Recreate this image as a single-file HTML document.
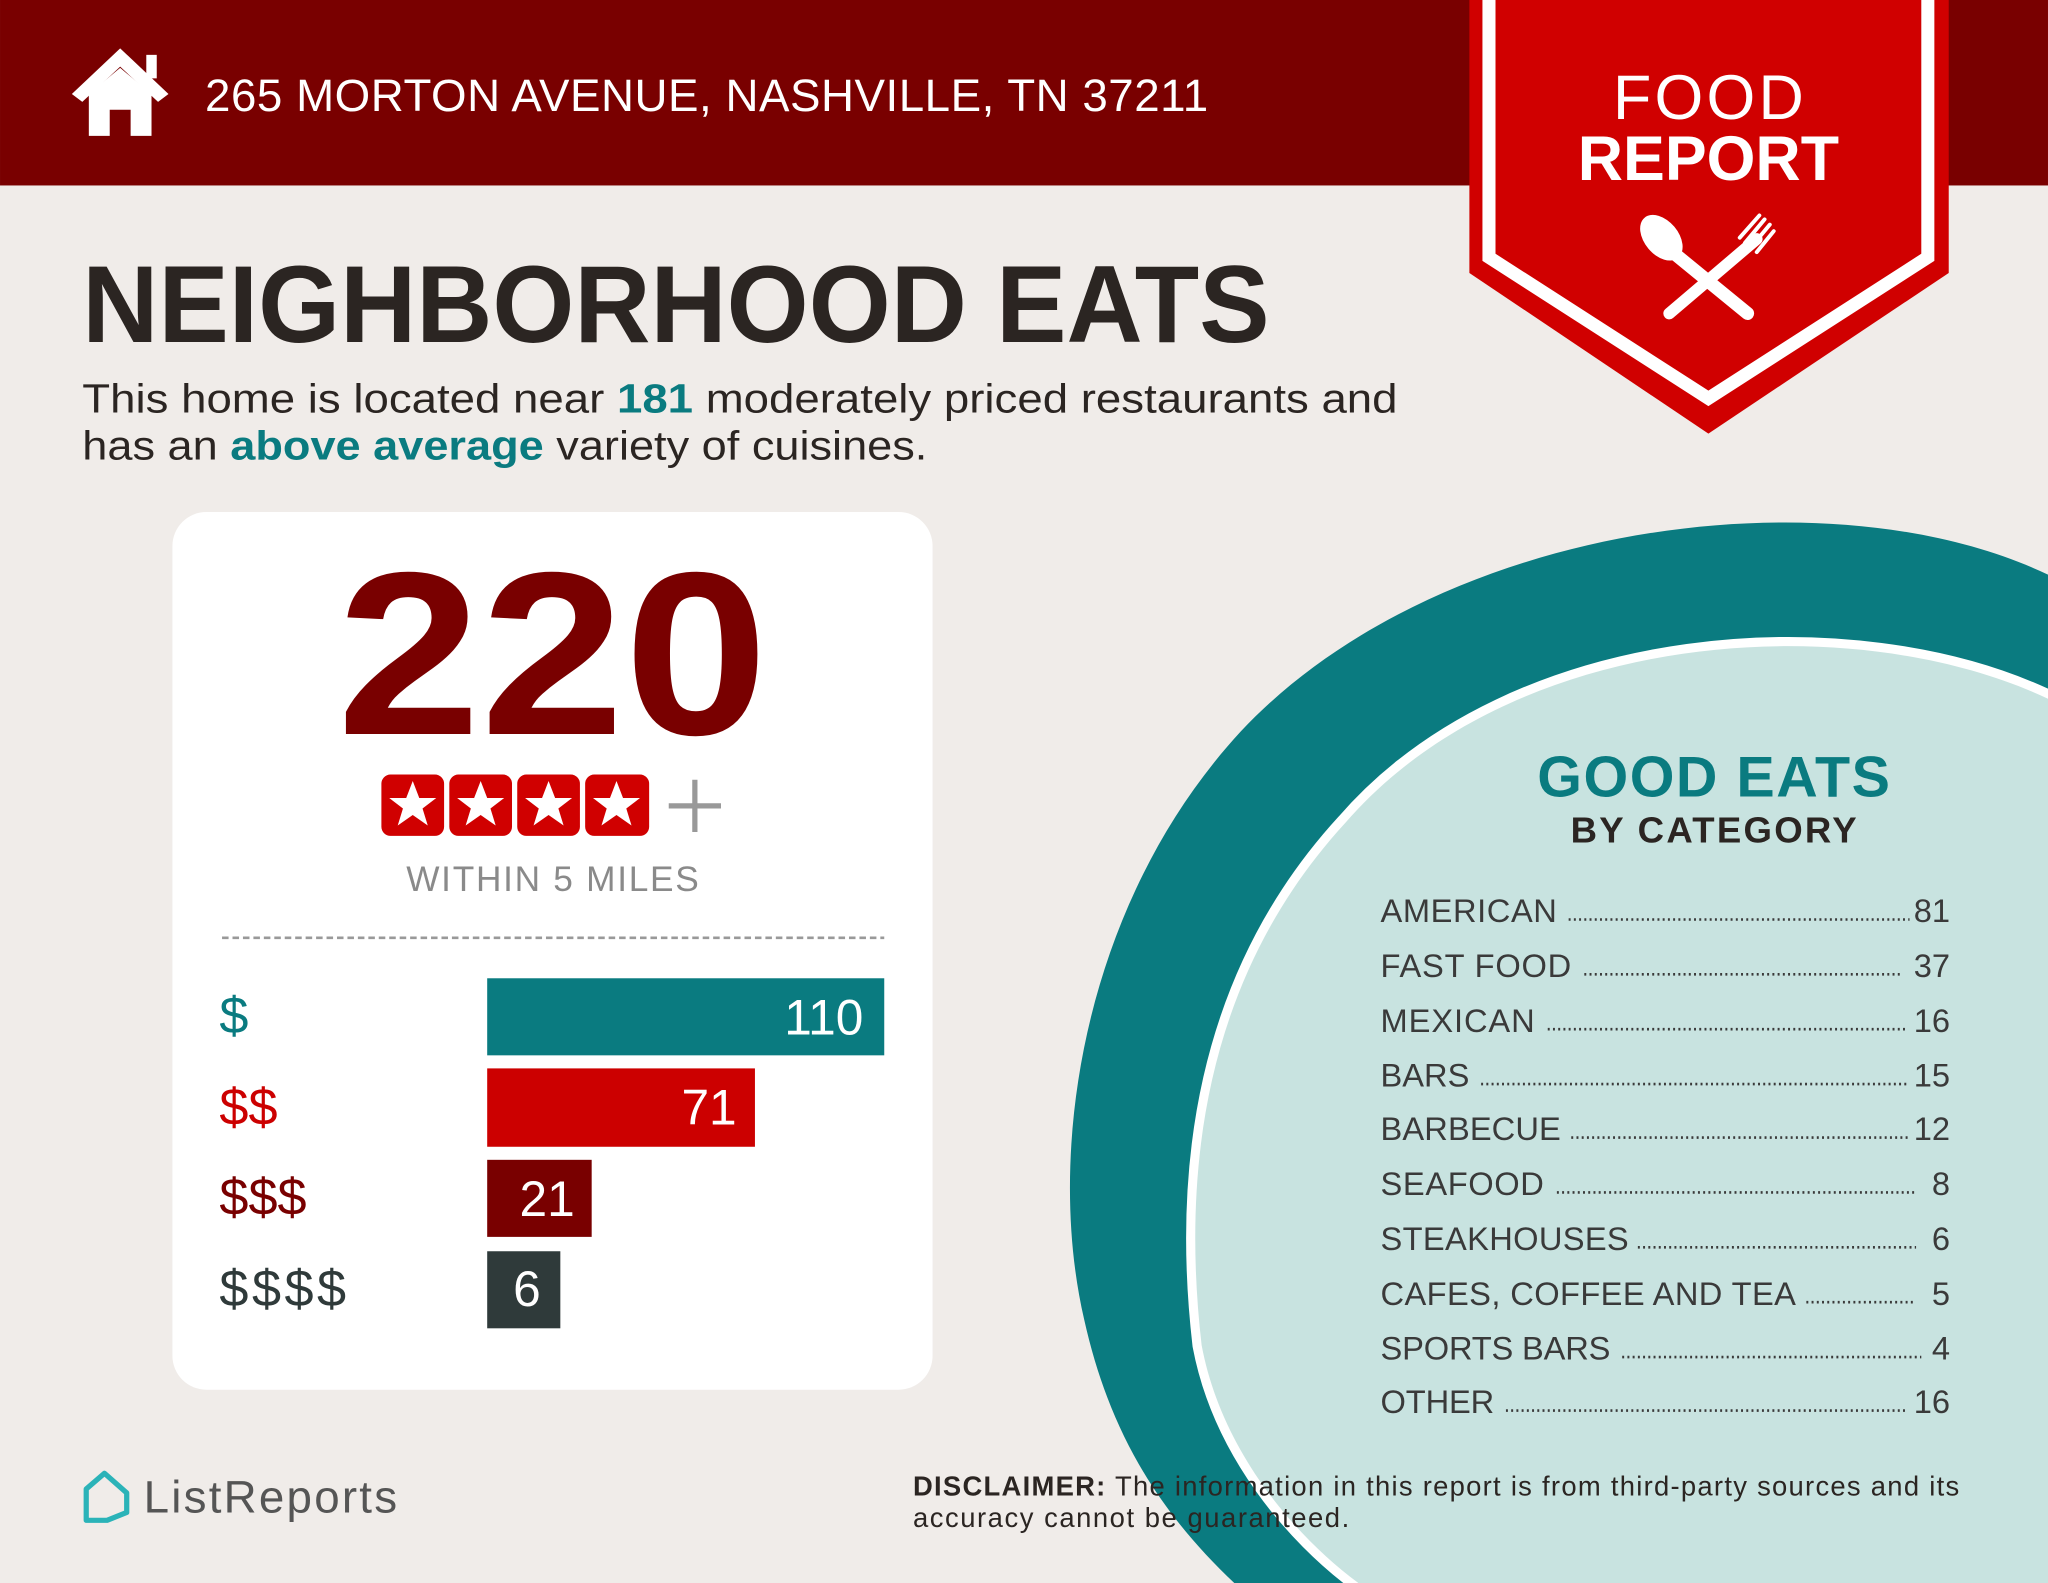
<!DOCTYPE html>
<html><head><meta charset="utf-8"><style>
html,body{margin:0;padding:0;background:#f0ece9}
svg{display:block}
text{font-family:"Liberation Sans",sans-serif}
</style></head><body>
<svg width="2048" height="1583" viewBox="0 0 1568 1212" xmlns="http://www.w3.org/2000/svg">
<rect width="1568" height="1212" fill="#f0ece9"/>
<rect width="1568" height="142" fill="#790000"/>
<!-- house -->
<polygon points="55,72 92,37 129,72 121,78 92,51 63,78" fill="#fff"/>
<rect x="112" y="42" width="8" height="18" fill="#fff"/>
<path d="M68,72 L92,52 L116,72 L116,104 L100,104 L100,84 L84,84 L84,104 L68,104 Z" fill="#fff"/>
<text x="157" y="85" font-size="35" fill="#fff" textLength="768">265 MORTON AVENUE, NASHVILLE, TN 37211</text>
<!-- badge -->
<polygon points="1125,0 1492,0 1492,209 1308,332 1125,209" fill="#d00000"/>
<path d="M1140,0 L1140,197 L1308,305 L1476,197 L1476,0" fill="none" stroke="#fff" stroke-width="10"/>
<text x="1308" y="91" font-size="48" fill="#fff" text-anchor="middle" textLength="146">FOOD</text>
<text x="1308" y="138" font-size="48" font-weight="bold" fill="#fff" text-anchor="middle" textLength="200">REPORT</text>
<g stroke="#fff" stroke-linecap="round" fill="none">
<line x1="1283" y1="195" x2="1338" y2="240" stroke-width="10"/>
<line x1="1345" y1="183" x2="1278" y2="240" stroke-width="9"/>
<path d="M1340,190 L1355,172 M1336,186 L1351,168 M1345,193 L1358,177 M1332,182 L1347,165" stroke-width="3"/>
</g>
<ellipse cx="1272" cy="182" rx="13" ry="20" transform="rotate(-40 1272 182)" fill="#fff"/>
<!-- title -->
<text x="63" y="262" font-size="84" font-weight="bold" fill="#2b2522" textLength="909" lengthAdjust="spacingAndGlyphs">NEIGHBORHOOD EATS</text>
<text x="63" y="316" font-size="31" fill="#2b2522" textLength="1007" lengthAdjust="spacingAndGlyphs">This home is located near <tspan fill="#0a7b80" font-weight="bold">181</tspan> moderately priced restaurants and</text>
<text x="63" y="352" font-size="31" fill="#2b2522" textLength="647" lengthAdjust="spacingAndGlyphs">has an <tspan fill="#0a7b80" font-weight="bold">above average</tspan> variety of cuisines.</text>
<!-- card -->
<rect x="132" y="392" width="582" height="672" rx="26" fill="#fff"/>
<text x="423" y="562" font-size="178" font-weight="bold" fill="#790000" text-anchor="middle" textLength="330" lengthAdjust="spacingAndGlyphs">220</text>
<g fill="#d00000">
<rect x="292" y="593" width="48" height="47" rx="7"/><rect x="344" y="593" width="48" height="47" rx="7"/>
<rect x="396" y="593" width="48" height="47" rx="7"/><rect x="448" y="593" width="49" height="47" rx="7"/>
</g>
<g fill="#fff">
<polygon id="st" points="316,598 321,611 334,611 323.5,619 327.5,632 316,624 304.5,632 308.5,619 298,611 311,611"/>
<use href="#st" x="52"/><use href="#st" x="104"/><use href="#st" x="156"/>
</g>
<path d="M532,597 V637 M512,617 H552" stroke="#999" stroke-width="4"/>
<text x="423" y="682" font-size="27" fill="#8a8a8a" text-anchor="middle" textLength="224">WITHIN 5 MILES</text>
<line x1="170" y1="718" x2="677" y2="718" stroke="#999" stroke-width="2" stroke-dasharray="5 3"/>
<rect x="373" y="749" width="304" height="59" fill="#0a7b80"/>
<rect x="373" y="818" width="205" height="60" fill="#cc0000"/>
<rect x="373" y="888" width="80" height="59" fill="#790000"/>
<rect x="373" y="958" width="56" height="59" fill="#2f3a3a"/>
<g font-size="38" fill="#fff" text-anchor="end">
<text x="661" y="792">110</text><text x="564" y="861">71</text><text x="440" y="931">21</text><text x="414" y="1000">6</text>
</g>
<g font-size="40">
<text x="168" y="791" fill="#0a7b80">$</text>
<text x="168" y="861" fill="#cc0000">$$</text>
<text x="168" y="930" fill="#790000">$$$</text>
<text x="168" y="1000" fill="#2f3a3a" textLength="97">$$$$</text>
</g>
<!-- circle -->
<path d="M1568,440 C1400,360 1100,400 950,560 C830,690 800,880 830,1010 C850,1100 890,1160 945,1212 L1568,1212 Z" fill="#0a7b80"/>
<path d="M1568,535 C1420,465 1160,480 1030,630 C920,750 905,900 920,1030 C935,1110 990,1175 1040,1212 L1568,1212 Z" fill="#c8e3e0" stroke="#fff" stroke-width="14"/>
<path d="M1568,535 C1420,465 1160,480 1030,630 C920,750 905,900 920,1030 C935,1110 990,1175 1040,1212 L1568,1212 Z" fill="#c8e3e0"/>
<text x="1312" y="610" font-size="44" font-weight="bold" fill="#0a7b80" text-anchor="middle" textLength="270">GOOD EATS</text>
<text x="1312" y="645" font-size="28" font-weight="bold" fill="#2b2522" text-anchor="middle" textLength="219">BY CATEGORY</text>
<g font-size="25" fill="#3a3a3a">
<text x="1057" y="706" textLength="135">AMERICAN</text>
<text x="1057" y="748" textLength="146">FAST FOOD</text>
<text x="1057" y="790" textLength="118">MEXICAN</text>
<text x="1057" y="832" textLength="68">BARS</text>
<text x="1057" y="873" textLength="138">BARBECUE</text>
<text x="1057" y="915" textLength="125">SEAFOOD</text>
<text x="1057" y="957" textLength="190">STEAKHOUSES</text>
<text x="1057" y="999" textLength="318">CAFES, COFFEE AND TEA</text>
<text x="1057" y="1041" textLength="176">SPORTS BARS</text>
<text x="1057" y="1082" textLength="87">OTHER</text>
</g>
<g font-size="25" fill="#3a3a3a" text-anchor="end">
<text x="1493" y="706">81</text><text x="1493" y="748">37</text><text x="1493" y="790">16</text>
<text x="1493" y="832">15</text><text x="1493" y="873">12</text><text x="1493" y="915">8</text>
<text x="1493" y="957">6</text><text x="1493" y="999">5</text><text x="1493" y="1041">4</text><text x="1493" y="1082">16</text>
</g>
<g stroke="#3a3a3a" stroke-width="2" stroke-dasharray="1.5 2.5">
<line x1="1201" y1="704" x2="1462" y2="704"/>
<line x1="1213" y1="746" x2="1456" y2="746"/>
<line x1="1185" y1="788" x2="1461" y2="788"/>
<line x1="1134" y1="830" x2="1461" y2="830"/>
<line x1="1203" y1="871" x2="1461" y2="871"/>
<line x1="1192" y1="913" x2="1467" y2="913"/>
<line x1="1254" y1="955" x2="1467" y2="955"/>
<line x1="1383" y1="997" x2="1467" y2="997"/>
<line x1="1242" y1="1039" x2="1471" y2="1039"/>
<line x1="1153" y1="1080" x2="1461" y2="1080"/>
</g>
<!-- disclaimer -->
<text x="699" y="1145" font-size="21" fill="#2b2522" textLength="801"><tspan font-weight="bold">DISCLAIMER:</tspan> The information in this report is from third-party sources and its</text>
<text x="699" y="1169" font-size="21" fill="#2b2522" textLength="334">accuracy cannot be guaranteed.</text>
<!-- logo -->
<path d="M66,1140 L80,1128 L97,1143 L97,1158 L82,1164 L66,1164 Z" fill="none" stroke="#2bb3b8" stroke-width="4" stroke-linejoin="round"/>
<text x="110" y="1158" font-size="35" fill="#555" textLength="194">ListReports</text>
</svg>
</body></html>
